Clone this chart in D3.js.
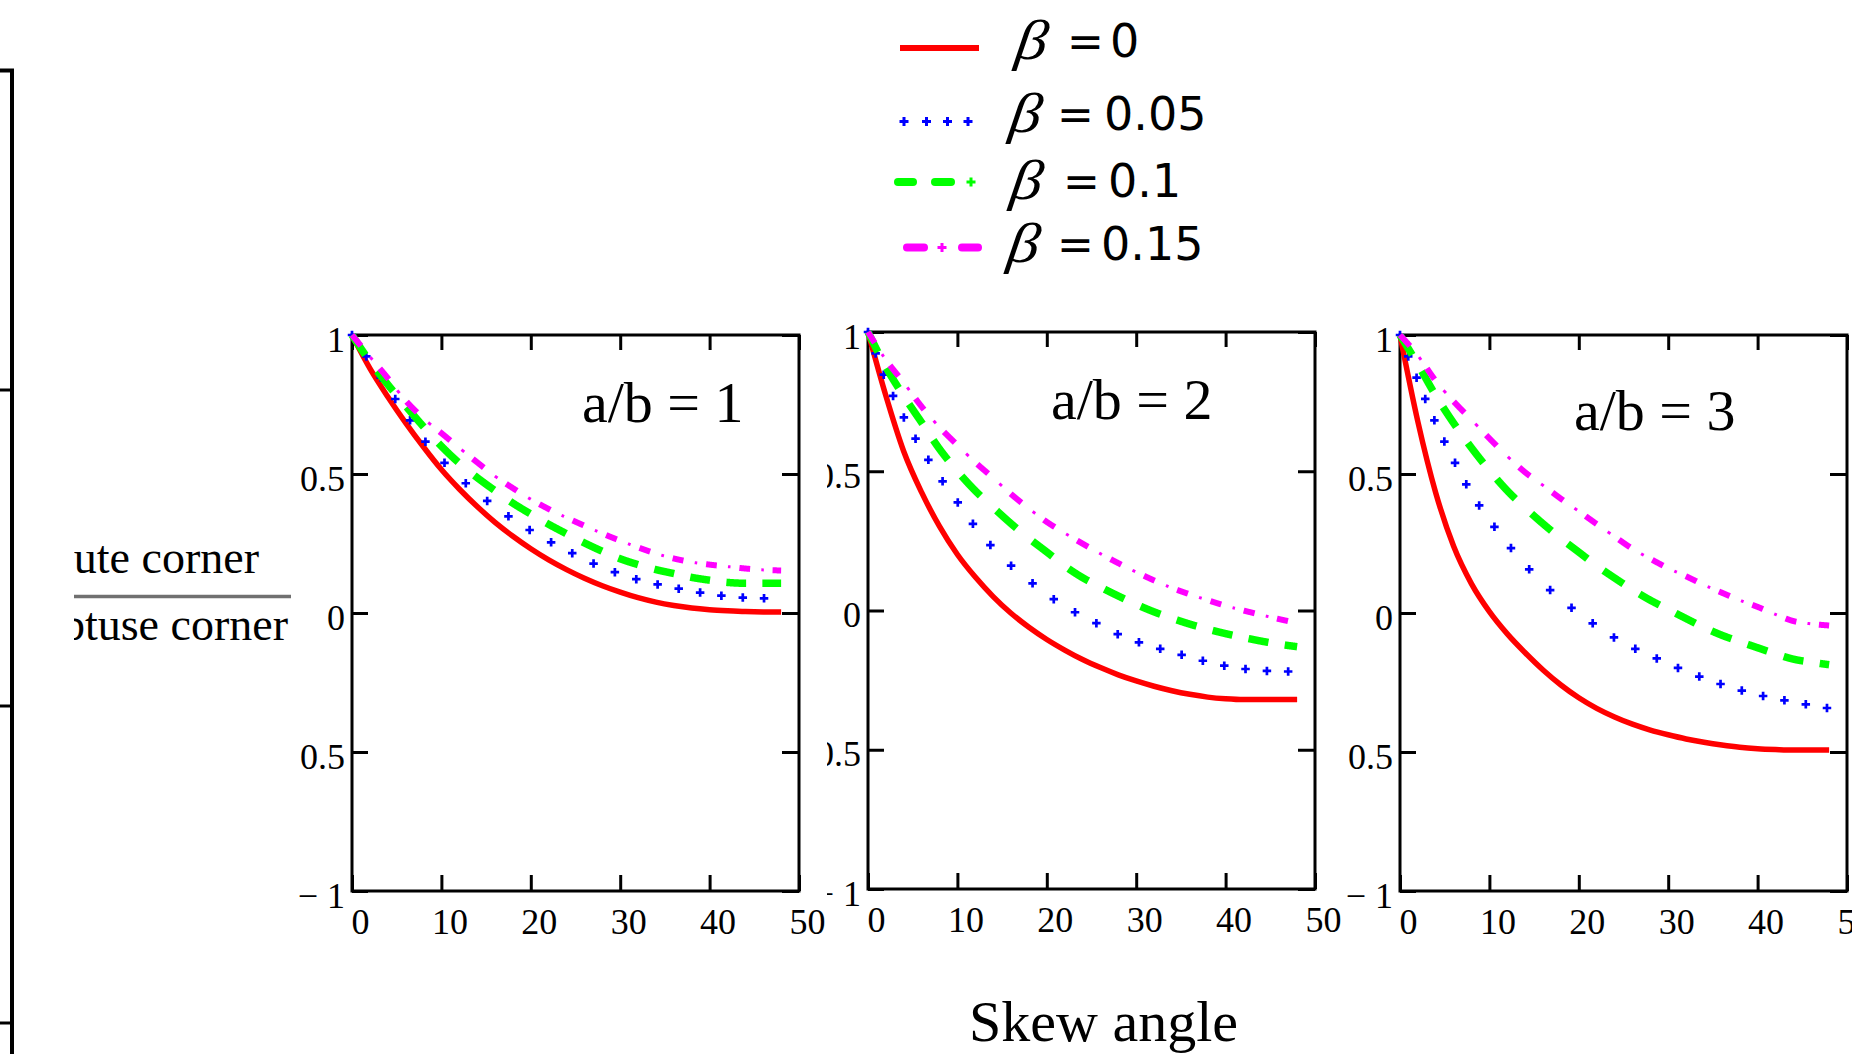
<!DOCTYPE html>
<html>
<head>
<meta charset="utf-8">
<title>Skew angle plots</title>
<script src="https://d3js.org/d3.v7.min.js"></script>
<style>
body { margin: 0; background: #fff; }
svg { display: block; }
</style>
</head>
<body>
<script type="text/javascript">

var skew = [0, 2, 4, 6, 8, 10, 12, 14, 16, 18, 20, 22, 24, 26, 28, 30, 32, 34, 36, 38, 40, 42, 44, 46, 48];

var ratioLabels = ["a/b = 1", "a/b = 2", "a/b = 3"];
var betaLabels = ["0", "0.05", "0.1", "0.15"];
var xTicks = [0, 10, 20, 30, 40, 50];
var yTicks = [-1, -0.5, 0, 0.5, 1];

// a/b = 1
var ab1_b0   = [1.0, 0.880, 0.778, 0.684, 0.597, 0.516, 0.446, 0.383, 0.326, 0.276, 0.231, 0.191, 0.156, 0.125, 0.098, 0.075, 0.055, 0.039, 0.027, 0.018, 0.012, 0.008, 0.005, 0.004, 0.004];
var ab1_b005 = [1.0, 0.904, 0.809, 0.716, 0.625, 0.552, 0.488, 0.432, 0.382, 0.337, 0.296, 0.259, 0.226, 0.193, 0.164, 0.140, 0.120, 0.104, 0.091, 0.079, 0.068, 0.060, 0.055, 0.053, 0.052];
var ab1_b01  = [1.0, 0.905, 0.822, 0.745, 0.670, 0.600, 0.539, 0.487, 0.440, 0.395, 0.356, 0.319, 0.285, 0.252, 0.222, 0.195, 0.174, 0.156, 0.142, 0.128, 0.118, 0.110, 0.107, 0.107, 0.107];
var ab1_b015 = [1.0, 0.922, 0.845, 0.764, 0.700, 0.647, 0.594, 0.542, 0.492, 0.449, 0.409, 0.374, 0.343, 0.314, 0.286, 0.260, 0.236, 0.214, 0.196, 0.183, 0.174, 0.167, 0.160, 0.155, 0.153];

// a/b = 2
var ab2_b0   = [1.0, 0.771, 0.571, 0.424, 0.302, 0.201, 0.120, 0.050, -0.010, -0.060, -0.104, -0.142, -0.176, -0.205, -0.231, -0.253, -0.272, -0.288, -0.301, -0.311, -0.317, -0.320, -0.320, -0.320, -0.320];
var ab2_b005 = [1.0, 0.828, 0.694, 0.580, 0.480, 0.390, 0.300, 0.224, 0.161, 0.108, 0.059, 0.014, -0.020, -0.053, -0.086, -0.111, -0.131, -0.150, -0.167, -0.185, -0.199, -0.209, -0.216, -0.218, -0.220];
var ab2_b01  = [1.0, 0.874, 0.770, 0.675, 0.580, 0.500, 0.430, 0.370, 0.312, 0.259, 0.210, 0.160, 0.118, 0.084, 0.052, 0.022, -0.005, -0.028, -0.049, -0.067, -0.083, -0.097, -0.110, -0.121, -0.130];
var ab2_b015 = [1.0, 0.900, 0.818, 0.732, 0.658, 0.594, 0.532, 0.476, 0.418, 0.366, 0.318, 0.278, 0.240, 0.204, 0.170, 0.138, 0.108, 0.081, 0.058, 0.037, 0.017, 0.000, -0.016, -0.031, -0.045];

// a/b = 3
var ab3_b0   = [1.0, 0.688, 0.432, 0.240, 0.105, 0.005, -0.075, -0.143, -0.205, -0.259, -0.305, -0.343, -0.374, -0.400, -0.421, -0.438, -0.453, -0.465, -0.475, -0.483, -0.488, -0.491, -0.493, -0.493, -0.493];
var ab3_b005 = [1.0, 0.835, 0.682, 0.550, 0.430, 0.335, 0.250, 0.173, 0.106, 0.049, -0.001, -0.047, -0.089, -0.124, -0.153, -0.182, -0.210, -0.235, -0.257, -0.277, -0.294, -0.308, -0.320, -0.332, -0.343];
var ab3_b01  = [1.0, 0.894, 0.782, 0.683, 0.594, 0.513, 0.440, 0.378, 0.321, 0.268, 0.219, 0.170, 0.126, 0.084, 0.046, 0.013, -0.020, -0.052, -0.080, -0.103, -0.125, -0.147, -0.166, -0.177, -0.186];
var ab3_b015 = [1.0, 0.926, 0.835, 0.761, 0.695, 0.628, 0.564, 0.506, 0.459, 0.411, 0.366, 0.320, 0.275, 0.231, 0.195, 0.161, 0.132, 0.101, 0.073, 0.046, 0.022, -0.005, -0.029, -0.039, -0.045];

var panelData = [
    [ab1_b0, ab1_b005, ab1_b01, ab1_b015],
    [ab2_b0, ab2_b005, ab2_b01, ab2_b015],
    [ab3_b0, ab3_b005, ab3_b01, ab3_b015]
];

var colors = ["#ff0000", "#0000ff", "#00ff00", "#ff00ff"];
var serif = "'Liberation Serif', 'Times New Roman', serif";
var sans = "'DejaVu Sans', Verdana, sans-serif";

var width = 1852;
var height = 1054;

var svg = d3.select("body")
            .append("svg")
            .attr("width", width)
            .attr("height", height);

var defs = svg.append("defs");

// each plot was pasted as its own picture, so each one gets cut off on the left
var panels = [
    {left: 352, top: 335, w: 447, h: 556, clipX: 291, clipW: 536, labelX: 582, labelY: 422},
    {left: 868, top: 332, w: 447, h: 557, clipX: 827, clipW: 519, labelX: 1051, labelY: 419},
    {left: 1400, top: 335, w: 447, h: 556, clipX: 1346, clipW: 506, labelX: 1574, labelY: 430}
];

// sample a drawn path and measure it the way the pixel pattern advances (max of dx, dy)
function chebSamples(node, step){
    var L = node.getTotalLength();
    var pts = [];
    for(var s = 0; s < L; s += step){
        var p = node.getPointAtLength(s);
        pts.push([p.x, p.y, 0]);
    }
    var e = node.getPointAtLength(L);
    pts.push([e.x, e.y, 0]);
    var c = 0;
    for(var i = 1; i < pts.length; i++){
        c += Math.max(Math.abs(pts[i][0] - pts[i-1][0]), Math.abs(pts[i][1] - pts[i-1][1]));
        pts[i][2] = c;
    }
    return pts;
}

function dashRuns(pts, period, on){
    var runs = [];
    var cur = null;
    pts.forEach(function(p){
        var ph = p[2] % period;
        if(ph >= on[0] && ph < on[1]){
            if(!cur){ cur = []; runs.push(cur); }
            cur.push(p);
        } else {
            cur = null;
        }
    });
    return runs.filter(function(r){ return r.length > 1; });
}

function markerPoints(pts, period){
    var out = [];
    var k = 0;
    pts.forEach(function(p){
        if(p[2] >= k * period){
            out.push(p);
            k++;
        }
    });
    return out;
}

function plusPath(cx, cy, s){
    return "M" + (cx - s/2) + "," + cy + "H" + (cx + s/2) +
           "M" + cx + "," + (cy - s/2) + "V" + (cy + s/2);
}

var runLine = d3.line().x(function(d){ return d[0]; }).y(function(d){ return d[1]; });

function drawPanel(p, series, label, idx){

    defs.append("clipPath").attr("id", "clip" + idx)
        .append("rect")
        .attr("x", p.clipX).attr("y", 0)
        .attr("width", p.clipW).attr("height", height);

    var g = svg.append("g").attr("clip-path", "url(#clip" + idx + ")");

    var x = d3.scaleLinear().domain([0, 50]).range([p.left, p.left + p.w]);
    var y = d3.scaleLinear().domain([-1, 1]).range([p.top + p.h, p.top]);

    var yFmt = function(d){ return d < 0 ? "\u2212 " + Math.abs(d) : String(d); };

    var axB = g.append("g")
        .attr("transform", "translate(0," + (p.top + p.h) + ")")
        .call(d3.axisBottom(x).tickValues(xTicks).tickSize(-16).tickPadding(17));
    axB.selectAll("text").attr("dx", 8);

    g.append("g")
        .attr("transform", "translate(0," + p.top + ")")
        .call(d3.axisTop(x).tickValues(xTicks).tickSize(-15).tickFormat(function(){ return ""; }));

    var axL = g.append("g")
        .attr("transform", "translate(" + p.left + ",0)")
        .call(d3.axisLeft(y).tickValues(yTicks).tickSize(-16).tickPadding(7).tickFormat(yFmt));
    axL.selectAll("text").attr("dy", "0.45em");

    g.append("g")
        .attr("transform", "translate(" + (p.left + p.w) + ",0)")
        .call(d3.axisRight(y).tickValues(yTicks).tickSize(-17).tickFormat(function(){ return ""; }));

    g.selectAll(".domain").remove();
    g.selectAll(".tick line").attr("stroke", "#000").attr("stroke-width", 3);
    g.selectAll(".tick text").attr("font-family", serif).attr("font-size", 36).attr("fill", "#000");

    g.append("rect")
        .attr("x", p.left).attr("y", p.top)
        .attr("width", p.w).attr("height", p.h)
        .attr("fill", "none").attr("stroke", "#000").attr("stroke-width", 3);

    var line = d3.line()
        .x(function(d, j){ return x(skew[j]); })
        .y(function(d){ return y(d); })
        .curve(d3.curveMonotoneX);

    series.forEach(function(vals, i){
        var path = g.append("path")
            .datum(vals)
            .attr("d", line)
            .attr("fill", "none");

        if(i == 0){
            path.attr("stroke", colors[0]).attr("stroke-width", 5.5);
            return;
        }

        path.attr("stroke", "none");
        var pts = chebSamples(path.node(), 0.25);

        if(i == 1){
            g.selectAll(".plus" + idx)
                .data(markerPoints(pts, 21.3))
                .enter()
                .append("path")
                .attr("d", function(d){ return plusPath(d[0], d[1], 8.5); })
                .attr("stroke", colors[1])
                .attr("stroke-width", 2.7);
        }

        if(i == 2){
            g.selectAll(".gdash" + idx)
                .data(dashRuns(pts, 36, [0, 20]))
                .enter()
                .append("path")
                .attr("d", runLine)
                .attr("fill", "none")
                .attr("stroke", colors[2])
                .attr("stroke-width", 7.5);
        }

        if(i == 3){
            g.selectAll(".mdash" + idx)
                .data(dashRuns(pts, 33.3, [0, 11]))
                .enter()
                .append("path")
                .attr("d", runLine)
                .attr("fill", "none")
                .attr("stroke", colors[3])
                .attr("stroke-width", 6);
            g.selectAll(".mdot" + idx)
                .data(dashRuns(pts, 33.3, [22, 24.8]))
                .enter()
                .append("path")
                .attr("d", runLine)
                .attr("fill", "none")
                .attr("stroke", colors[3])
                .attr("stroke-width", 3);
        }
    });

    g.append("text")
        .attr("x", p.labelX)
        .attr("y", p.labelY)
        .attr("font-family", serif)
        .attr("font-size", 58)
        .attr("fill", "#000")
        .text(label);
}

panels.forEach(function(p, i){
    drawPanel(p, panelData[i], ratioLabels[i], i);
});

// edge of the neighbouring figure on the far left
var edge = svg.append("g").attr("stroke", "#000").attr("fill", "none");
edge.append("path").attr("d", "M0,70.5H12V1054").attr("stroke-width", 4);
[390, 706, 1023].forEach(function(t){
    edge.append("line").attr("x1", 0).attr("x2", 12).attr("y1", t).attr("y2", t).attr("stroke-width", 3);
});

// y label as a fraction, cut off on the left
defs.append("clipPath").attr("id", "clipLabel")
    .append("rect").attr("x", 74).attr("y", 0).attr("width", 217).attr("height", height);

var yl = svg.append("g").attr("clip-path", "url(#clipLabel)");
yl.append("text")
    .attr("x", 259).attr("y", 573)
    .attr("text-anchor", "end")
    .attr("font-family", serif).attr("font-size", 46)
    .text("Acute corner");
yl.append("line")
    .attr("x1", 74).attr("x2", 292)
    .attr("y1", 596.5).attr("y2", 596.5)
    .attr("stroke", "#707070").attr("stroke-width", 3.5);
yl.append("text")
    .attr("x", 288).attr("y", 640)
    .attr("text-anchor", "end")
    .attr("font-family", serif).attr("font-size", 46)
    .text("Obtuse corner");

svg.append("text")
    .attr("x", 969).attr("y", 1041)
    .attr("font-family", serif).attr("font-size", 58)
    .text("Skew angle");

// legend
var legendRows = [
    {y: 48, base: 57, bx: 1014, ex: 1067, vx: 1110},
    {y: 122, base: 130, bx: 1008, ex: 1057, vx: 1104},
    {y: 182, base: 197, bx: 1009, ex: 1063, vx: 1108},
    {y: 247, base: 260, bx: 1006, ex: 1057, vx: 1101}
];

var lg = svg.append("g");

lg.append("line")
    .attr("x1", 900).attr("x2", 979)
    .attr("y1", 48).attr("y2", 48)
    .attr("stroke", colors[0]).attr("stroke-width", 6);

[904, 926.5, 947.5, 968].forEach(function(cx){
    lg.append("path").attr("d", plusPath(cx, 121.5, 9))
      .attr("stroke", colors[1]).attr("stroke-width", 3);
});

[[898, 913], [935, 951]].forEach(function(s){
    lg.append("line").attr("x1", s[0]).attr("x2", s[1]).attr("y1", 182).attr("y2", 182)
      .attr("stroke", colors[2]).attr("stroke-width", 8).attr("stroke-linecap", "round");
});
lg.append("path").attr("d", plusPath(971, 182, 9)).attr("stroke", colors[2]).attr("stroke-width", 3);

[[907, 924], [962, 978]].forEach(function(s){
    lg.append("line").attr("x1", s[0]).attr("x2", s[1]).attr("y1", 247.5).attr("y2", 247.5)
      .attr("stroke", colors[3]).attr("stroke-width", 8).attr("stroke-linecap", "round");
});
lg.append("path").attr("d", plusPath(942, 247.5, 9)).attr("stroke", colors[3]).attr("stroke-width", 3);

legendRows.forEach(function(r, i){
    lg.append("text")
      .attr("transform", "translate(" + r.bx + "," + (r.base + 2) + ") skewX(-8) scale(1.12,1)")
      .attr("font-family", serif).attr("font-style", "italic").attr("font-size", 56)
      .text("\u03b2");
    lg.append("text")
      .attr("x", r.ex).attr("y", r.base)
      .attr("font-family", sans).attr("font-size", 44)
      .text("=");
    lg.append("text")
      .attr("x", r.vx).attr("y", r.base)
      .attr("font-family", sans).attr("font-size", 46)
      .text(betaLabels[i]);
});

</script>
</body>
</html>
